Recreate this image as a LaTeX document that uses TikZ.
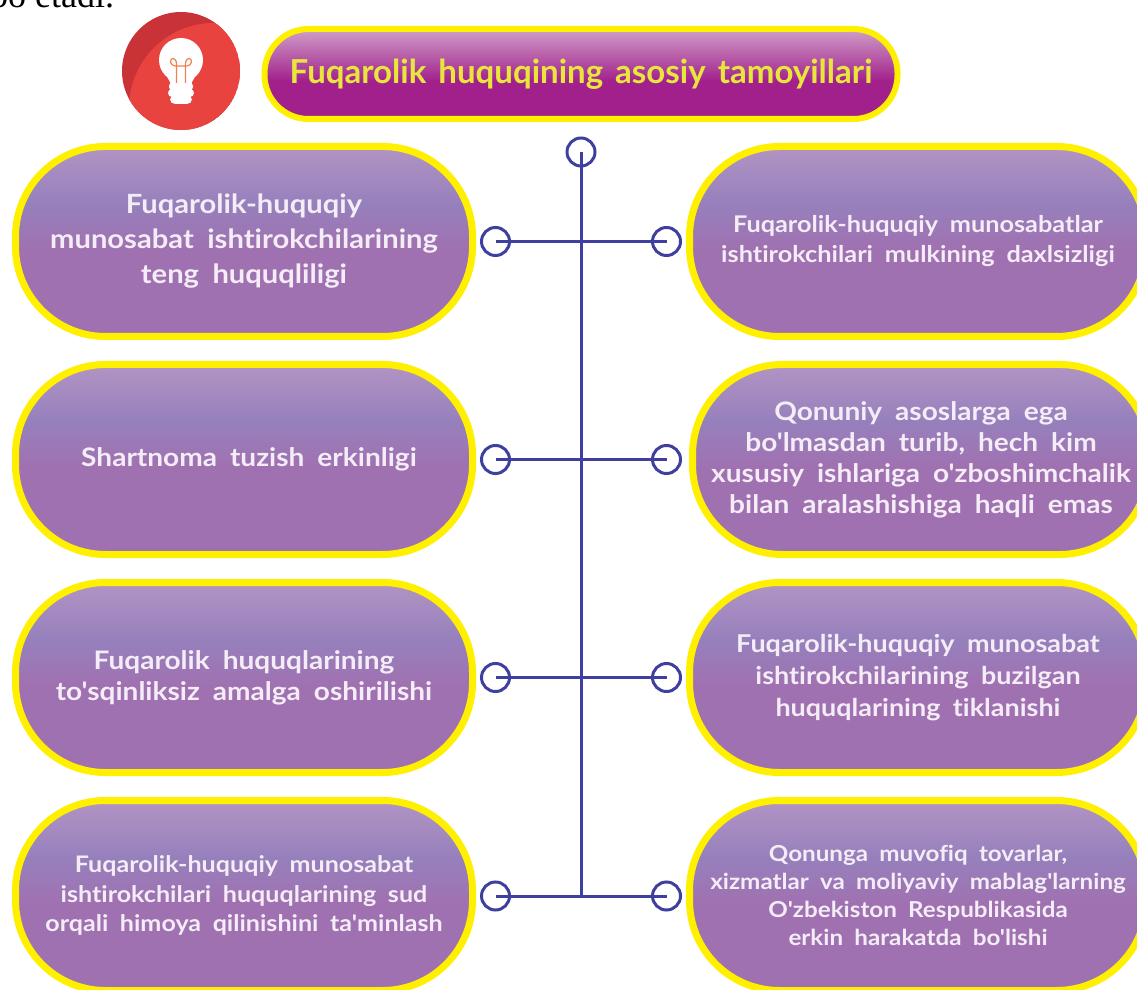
\documentclass[tikz,border=0pt]{standalone}
\usepackage{fontspec}
\newfontfamily\labelfont{Lato}[WordSpace=1.9,FakeStretch=1.1,Ligatures=NoCommon,BoldFont={Lato Bold}]
\newfontfamily\headfont{Lato}[WordSpace=1.5,Ligatures=NoCommon,BoldFont={Lato Bold}]
\newfontfamily\serifpage{Liberation Serif}
\definecolor{pillbase}{HTML}{A071B1}
\definecolor{pilltop}{HTML}{B294C4}
\definecolor{pillmid}{HTML}{9680BC}
\definecolor{titlebase}{HTML}{A2208C}
\definecolor{titletop}{HTML}{CF9FC8}
\definecolor{rimyellow}{HTML}{FFF000}
\definecolor{linkblue}{HTML}{3F3F9F}
\definecolor{labelwhite}{HTML}{F4ECF6}
\definecolor{titleyellow}{HTML}{E8E63C}
\definecolor{bulbred}{HTML}{E94340}
\definecolor{bulbdark}{HTML}{C93337}
\definecolor{filament}{HTML}{F08050}
\pgfdeclareverticalshading{pillgloss}{100bp}{color(0bp)=(pillbase); color(48bp)=(pillbase); color(60bp)=(pillmid); color(75bp)=(pilltop); color(100bp)=(pilltop)}
\pgfdeclareverticalshading{titlegloss}{100bp}{color(0bp)=(titlebase); color(46bp)=(titlebase); color(75bp)=(titletop); color(100bp)=(titletop)}
\newcommand{\fsz}[2]{\labelfont\fontsize{#1}{#2}\selectfont\bfseries}
\tikzset{
  pillbox/.style={draw=rimyellow,line width=7pt,shade,shading=pillgloss,rounded corners=90pt,
    minimum width=457pt,minimum height=190pt,inner sep=0pt,align=center,text=labelwhite},
  titlebox/.style={draw=rimyellow,line width=6pt,shade,shading=titlegloss,rounded corners=44pt,
    minimum width=633pt,minimum height=90pt,inner sep=0pt,align=center,text=titleyellow},
  ringdot/.style={circle,draw=linkblue,line width=3pt,minimum size=28pt,inner sep=0pt},
  linkline/.style={draw=linkblue,line width=3pt}
}
\begin{document}
\begin{tikzpicture}[x=1pt,y=1pt]
\path[use as bounding box,clip] (0,0) rectangle (1137,989);
\fill[white] (0,0) rectangle (1137,989);
% page text
\node[anchor=base west,inner sep=0pt,font=\serifpage\fontsize{36}{40}\selectfont] (pagetext) at (-10,981) {bo etadi.};
% bulb badge
\begin{scope}
  \clip (181,918) circle (59);
  \fill[bulbdark] (181,918) circle (59);
  \fill[bulbred] (214,881) circle (85);
\end{scope}
\fill[white] (181,929) circle (22);
\fill[white] (163,920) -- (171,905) -- (191,905) -- (199,920) -- cycle;
\fill[white,rounded corners=4pt] (169,907) rectangle (193,898);
\fill[white,rounded corners=4pt] (168,900) rectangle (194,892);
\fill[white,rounded corners=5pt] (170,894) rectangle (192,885);
\draw[filament,line width=1.2pt] (176.5,906) -- (176.5,925) .. controls (176.5,932) and (170,932) .. (170.5,927) .. controls (171,922) and (178,923) .. (181,923) .. controls (184,923) and (191,922) .. (191.5,927) .. controls (192,932) and (185.5,932) .. (185.5,925) -- (185.5,906);
% title
\node[titlebox,font=\headfont\fontsize{33}{38}\selectfont\bfseries] (title) at (581,915) {Fuqarolik huquqining asosiy tamoyillari};
% boxes
\node[pillbox,font=\fsz{26.5}{35}] (b1l) at (244,747.5) {Fuqarolik-huquqiy\\munosabat ishtirokchilarining\\teng huquqliligi};
\node[pillbox,font=\fsz{23}{30}] (b1r) at (918,747.5) {Fuqarolik-huquqiy munosabatlar\\ishtirokchilari mulkining daxlsizligi};
\node[pillbox,font=\fsz{25.5}{31}] (b2l) at (244,529.5) {\hspace*{10pt}Shartnoma tuzish erkinligi};
\node[pillbox,font=\fsz{25.5}{31}] (b2r) at (921,529.5) {Qonuniy asoslarga ega\\bo'lmasdan turib, hech kim\\xususiy ishlariga o'zboshimchalik\\bilan aralashishiga haqli emas};
\node[pillbox,font=\fsz{25.5}{31}] (b3l) at (244,311.5) {Fuqarolik huquqlarining\\to'sqinliksiz amalga oshirilishi};
\node[pillbox,font=\fsz{24.5}{32}] (b3r) at (918,311.5) {Fuqarolik-huquqiy munosabat\\ishtirokchilarining buzilgan\\huquqlarining tiklanishi};
\node[pillbox,font=\fsz{22.8}{29.5}] (b4l) at (244,93.5) {Fuqarolik-huquqiy munosabat\\ishtirokchilari huquqlarining sud\\orqali himoya qilinishini ta'minlash};
\node[pillbox,font=\fsz{22}{28}] (b4r) at (918,93.5) {Qonunga muvofiq tovarlar,\\xizmatlar va moliyaviy mablag'larning\\O'zbekiston Respublikasida\\erkin harakatda bo'lishi};
% rings
\node[ringdot] (top) at (581,837) {};
\node[ringdot] (l1) at (495.5,747.5) {};
\node[ringdot] (r1) at (666.5,747.5) {};
\node[ringdot] (l2) at (495.5,529.5) {};
\node[ringdot] (r2) at (666.5,529.5) {};
\node[ringdot] (l3) at (495.5,311.5) {};
\node[ringdot] (r3) at (666.5,311.5) {};
\node[ringdot] (l4) at (495.5,93) {};
\node[ringdot] (r4) at (666.5,93) {};
% connectors
\draw[linkline] (l1.center) -- (r1.center);
\draw[linkline] (l2.center) -- (r2.center);
\draw[linkline] (l3.center) -- (r3.center);
\draw[linkline] (l4.center) -- (r4.center);
\draw[linkline] (top.center) -- (top.center |- l4.center);
\end{tikzpicture}
\end{document}
